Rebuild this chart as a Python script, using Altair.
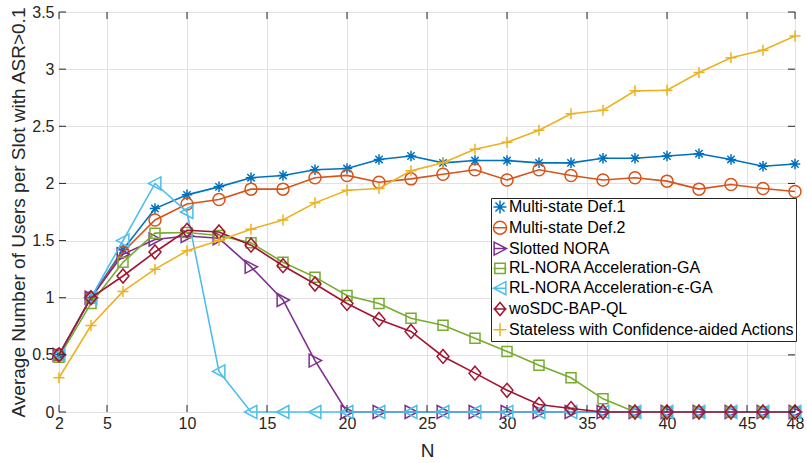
import altair as alt
import pandas as pd

# ---------------- data ----------------
N = list(range(2, 49, 2))

series_names = [
    "Multi-state Def.1",
    "Multi-state Def.2",
    "Slotted NORA",
    "RL-NORA Acceleration-GA",
    "RL-NORA Acceleration-\u03f5-GA",
    "woSDC-BAP-QL",
    "Stateless with Confidence-aided Actions",
]

def1 = [0.50, 1.00, 1.42, 1.78, 1.90, 1.97, 2.05, 2.07, 2.12, 2.13, 2.21, 2.24,
        2.18, 2.20, 2.20, 2.18, 2.18, 2.22, 2.22, 2.24, 2.26, 2.21, 2.15, 2.17]
def2 = [0.50, 1.00, 1.40, 1.68, 1.82, 1.86, 1.95, 1.95, 2.05, 2.07, 2.01, 2.04,
        2.08, 2.12, 2.03, 2.12, 2.07, 2.03, 2.05, 2.02, 1.95, 1.99, 1.955, 1.93]
slotted = [0.50, 1.00, 1.38, 1.51, 1.54, 1.52, 1.27, 0.98, 0.45, 0.0, 0.0, 0.0,
           0.0, 0.0, 0.0, 0.0, 0.0, 0.0, 0.0, 0.0, 0.0, 0.0, 0.0, 0.0]
rl_ga = [0.48, 0.95, 1.31, 1.565, 1.57, 1.545, 1.48, 1.31, 1.18, 1.02, 0.95, 0.82,
         0.76, 0.645, 0.53, 0.41, 0.30, 0.115, 0.0, 0.0, 0.0, 0.0, 0.0, 0.0]
rl_eps_ga = [0.50, 1.00, 1.50, 2.00, 1.75, 0.355, 0.0, 0.0, 0.0, 0.0, 0.0, 0.0,
             0.0, 0.0, 0.0, 0.0, 0.0, 0.0, 0.0, 0.0, 0.0, 0.0, 0.0, 0.0]
wosdc = [0.50, 1.00, 1.19, 1.40, 1.59, 1.575, 1.46, 1.28, 1.12, 0.95, 0.81, 0.705,
         0.486, 0.34, 0.19, 0.066, 0.03, 0.0, 0.0, 0.0, 0.0, 0.0, 0.0, 0.0]
stateless = [0.30, 0.757, 1.055, 1.25, 1.41, 1.50, 1.60, 1.68, 1.83, 1.94, 1.955, 2.11,
             2.18, 2.30, 2.36, 2.465, 2.61, 2.64, 2.81, 2.815, 2.97, 3.10, 3.165, 3.29]

values = [def1, def2, slotted, rl_ga, rl_eps_ga, wosdc, stateless]

x_tick_values = [2, 5, 10, 15, 20, 25, 30, 35, 40, 45, 48]
y_tick_values = [0, 0.5, 1, 1.5, 2, 2.5, 3, 3.5]

# ---------------- styles ----------------
colors = ["#0072BD", "#D95319", "#7E2F8E", "#77AC30", "#4DBEEE", "#A2142F", "#EDB120"]

marker_paths = [
    "M-1,0L1,0M0,-1L0,1M-0.7,-0.7L0.7,0.7M-0.7,0.7L0.7,-0.7",   # asterisk
    "M-1,0A1,1,0,1,1,1,0A1,1,0,1,1,-1,0Z",                       # circle
    "M-0.9,-1L1,0L-0.9,1Z",                                      # triangle right
    "M-1,-1L1,-1L1,1L-1,1Z",                                     # square
    "M0.9,-1L-1,0L0.9,1Z",                                       # triangle left
    "M0,-1L0.85,0L0,1L-0.85,0Z",                                 # diamond
    "M-1,0L1,0M0,-1L0,1",                                        # plus
]
marker_sizes = [110, 144, 169, 100, 169, 196, 121]
legend_paths = [p + "M-1,0L1,0" for p in marker_paths]
legend_paths[0] = marker_paths[0]
legend_paths[6] = marker_paths[6]
legend_paths[3] = "M-0.8,-0.8L0.8,-0.8L0.8,0.8L-0.8,0.8ZM-1,0L1,0"

FONT = "Liberation Sans"
W, H = 736, 400
TICK = 7

xscale = alt.Scale(domain=[2, 48], nice=False, zero=False)
yscale = alt.Scale(domain=[0, 3.5], nice=False)

axis_common = dict(grid=True, ticks=False, domain=False, labelFontSize=16, labelColor="#262626",
                   titleFontSize=19, titleFontWeight="normal", titleColor="#262626",
                   gridColor="#e1e1e1", gridWidth=1, labelFont=FONT, titleFont=FONT)


def X():
    return alt.X("N:Q", scale=xscale,
                 axis=alt.Axis(values=x_tick_values, format="d", labelFlush=False, labelPadding=3,
                               title="N", titlePadding=10, **axis_common))


def Y():
    return alt.Y("v:Q", scale=yscale,
                 axis=alt.Axis(values=y_tick_values, format="~g", labelPadding=5,
                               title="Average Number of Users per Slot with ASR>0.1",
                               titlePadding=3, **axis_common))


layers = []
for i, name in enumerate(series_names):
    df = pd.DataFrame({"N": N, "v": values[i]})
    line = alt.Chart(df).mark_line(color=colors[i], strokeWidth=1.6, clip=False).encode(x=X(), y=Y())
    pts = alt.Chart(df).mark_point(shape=marker_paths[i], size=marker_sizes[i], color=colors[i],
                                   filled=False, strokeWidth=1.5, opacity=1, clip=False).encode(x=X(), y=Y())
    layers += [line, pts]

# legend-driving layer (invisible marks)
long_df = pd.DataFrame({
    "N": [n for _ in series_names for n in N],
    "v": [v for vals in values for v in vals],
    "series": [s for s in series_names for _ in N],
})
legend_def = alt.Legend(orient="none", legendX=432, legendY=186, title=None,
                        labelFont=FONT, labelFontSize=16, labelColor="#000000", labelLimit=600,
                        labelOffset=1, symbolSize=169, symbolStrokeWidth=1.5, symbolOpacity=1,
                        padding=1, rowPadding=0.8, strokeColor="#262626", fillColor="white",
                        cornerRadius=0)
legend_layer = alt.Chart(long_df).mark_point(opacity=0, filled=False).encode(
    x=X(), y=Y(),
    color=alt.Color("series:N", scale=alt.Scale(domain=series_names, range=colors), legend=legend_def),
    shape=alt.Shape("series:N", scale=alt.Scale(domain=series_names, range=legend_paths), legend=legend_def),
)

# inward tick marks on all four sides
xt = pd.DataFrame({"N": x_tick_values})
yt = pd.DataFrame({"v": y_tick_values})
tick_style = dict(color="#262626", strokeWidth=1)
ticks_bottom = alt.Chart(xt).mark_rule(**tick_style).encode(x=X(), y=alt.value(H), y2=alt.value(H - TICK))
ticks_top = alt.Chart(xt).mark_rule(**tick_style).encode(x=X(), y=alt.value(0), y2=alt.value(TICK))
ticks_left = alt.Chart(yt).mark_rule(**tick_style).encode(y=Y(), x=alt.value(0), x2=alt.value(TICK))
ticks_right = alt.Chart(yt).mark_rule(**tick_style).encode(y=Y(), x=alt.value(W), x2=alt.value(W - TICK))

chart = alt.layer(*layers, ticks_bottom, ticks_top, ticks_left, ticks_right, legend_layer).properties(
    width=W, height=H,
    autosize=alt.AutoSizeParams(type="none"),
    padding={"left": 59, "top": 12, "right": 12, "bottom": 51},
    background="white",
).configure_view(stroke="#262626", strokeWidth=1)

chart.save("out.html", embed_options={"renderer": "svg", "actions": False})
